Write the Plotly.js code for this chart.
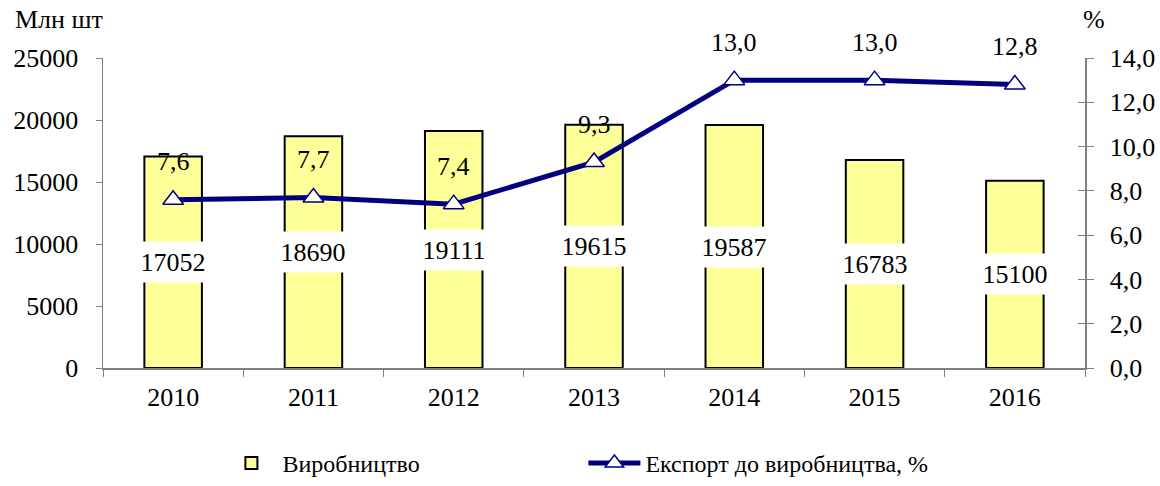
<!DOCTYPE html>
<html>
<head>
<meta charset="utf-8">
<script src="https://cdn.plot.ly/plotly-3.0.1.min.js"></script>
<style>html,body{margin:0;padding:0;background:#fff;}#chart{width:1160px;height:486px;}</style>
</head>
<body>
<div id="chart"></div>
<script>
const years = ['2010','2011','2012','2013','2014','2015','2016'];
const production = [17052, 18690, 19111, 19615, 19587, 16783, 15100];
const exportShare = [7.6, 7.7, 7.4, 9.3, 13.0, 13.0, 12.8];
const leftTicks = [0, 5000, 10000, 15000, 20000, 25000];
const rightTicks = [0, 2, 4, 6, 8, 10, 12, 14];

const fontFamily = 'Times New Roman';
const mkFont = (s) => ({family: fontFamily, size: s || 26, color: '#000'});
const fmt = v => v.toFixed(1).replace('.', ',');

const traces = [
  {
    type: 'bar', x: years, y: production, name: 'Виробництво',
    width: 0.41,
    marker: {color: '#FFFF99', line: {color: '#000', width: 2}},
    hoverinfo: 'x+y'
  },
  {
    type: 'scatter', mode: 'lines+markers', x: years, y: exportShare,
    yaxis: 'y2', name: 'Експорт до виробництва, %',
    line: {color: '#000080', width: 5},
    marker: {symbol: 'triangle-up', size: 18, color: '#fff', line: {color: '#000080', width: 1.5}},
    cliponaxis: false
  },
  {
    type: 'scatter', mode: 'markers', x: [years[0]], y: [null], yaxis: 'y3',
    showlegend: false, hoverinfo: 'skip'
  }
];

const annotations = [];
production.forEach((v, i) => annotations.push({
  x: i, y: v / 2, xref: 'x', yref: 'y',
  text: String(v), showarrow: false,
  font: mkFont(), bgcolor: '#fff', width: 64, height: 38
}));
exportShare.forEach((v, i) => annotations.push({
  x: i, y: v, xref: 'x', yref: 'y2', yshift: 38,
  text: fmt(v), showarrow: false, font: mkFont()
}));
annotations.push({xref: 'paper', yref: 'paper', x: -0.092, y: 1.123, xanchor: 'left', yanchor: 'middle',
  text: 'Млн шт', showarrow: false, font: mkFont()});
annotations.push({xref: 'paper', yref: 'paper', x: 0.996, y: 1.123, xanchor: 'left', yanchor: 'middle',
  text: '%', showarrow: false, font: mkFont()});

const layout = {
  width: 1160, height: 486,
  margin: {l: 103, r: 75, t: 58, b: 118},
  paper_bgcolor: '#fff', plot_bgcolor: '#fff',
  font: mkFont(),
  separators: ', ',
  showlegend: true,
  legend: {orientation: 'h', x: 0.19, xanchor: 'left', xref: 'container',
    y: 0.0, yanchor: 'bottom', yref: 'container',
    font: mkFont(24), itemwidth: 52, entrywidth: 296, traceorder: 'normal', bgcolor: 'rgba(0,0,0,0)'},
  xaxis: {
    type: 'category', range: [-0.5, 6.5],
    showline: true, linecolor: '#808080', linewidth: 1.5,
    ticks: 'outside', tickson: 'boundaries', ticklen: 7, tickcolor: '#808080',
    ticklabelstandoff: 5,
    showgrid: false, tickfont: mkFont(), zeroline: false
  },
  yaxis: {
    range: [0, 25000], tickvals: leftTicks, ticktext: leftTicks.map(String),
    showline: true, linecolor: '#808080', linewidth: 1.5,
    ticks: 'outside', ticklen: 6, tickcolor: '#808080',
    ticklabelstandoff: 12,
    showgrid: false, zeroline: false, tickfont: mkFont()
  },
  yaxis2: {
    overlaying: 'y', side: 'right', range: [0, 14],
    tickvals: rightTicks, ticktext: rightTicks.map(fmt),
    showline: true, linecolor: '#808080', linewidth: 1.5,
    ticks: 'outside', ticklen: 7, tickcolor: '#808080',
    ticklabelstandoff: 11,
    showgrid: false, zeroline: false, tickfont: mkFont()
  },
  yaxis3: {
    overlaying: 'y', side: 'right', range: [0, 14],
    tickvals: rightTicks, showticklabels: false,
    showline: false, ticks: 'inside', ticklen: 7, tickcolor: '#808080', tickwidth: 1,
    showgrid: false, zeroline: false
  },
  annotations: annotations
};

Plotly.newPlot('chart', traces, layout, {displayModeBar: false, staticPlot: true});
</script>
</body>
</html>
